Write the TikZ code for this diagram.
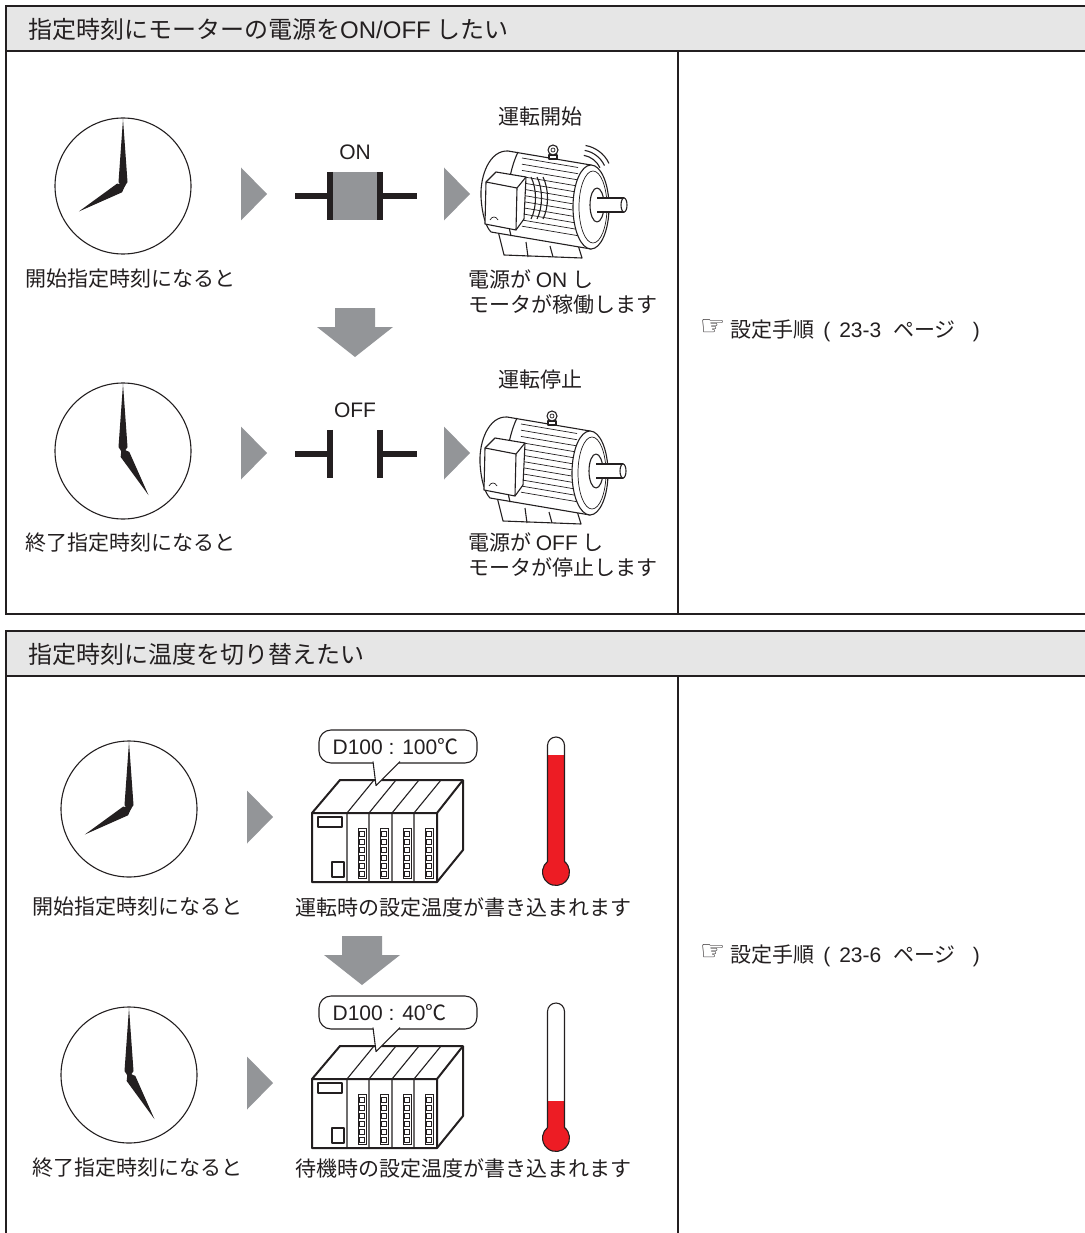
\documentclass[tikz,border=0pt]{standalone}
\usepackage{fontspec}
\setmainfont{Noto Sans CJK JP}
\newfontfamily\arial{Liberation Sans}
\newfontfamily\handfont{DejaVu Sans}
\usetikzlibrary{calc}

\definecolor{ink}{HTML}{231F20}
\definecolor{headgray}{HTML}{E6E6E6}
\definecolor{markgray}{HTML}{939598}
\definecolor{hotred}{HTML}{ED1C24}

\newcommand\pagelink[1]{{\handfont\fontsize{28}{28}\selectfont\raisebox{2pt}{☞}}\hspace{5pt}設定手順\hspace{9pt}{\arial (}\hspace{9pt}{\arial #1}\hspace{12pt}ページ\hspace{17pt}{\arial )}}

\tikzset{
  mline/.style={ink,line width=1.1pt,line join=round},
  fin/.style={ink,line width=0.7pt},
  pics/hands/.style={code={
    \fill[ink,rotate=90] (-3,0) -- (4,4.5) -- (67,0) -- (4,-4.5) -- cycle;
    \fill[ink,rotate=-#1] (-3,0) -- (4,5) -- (51,0) -- (4,-5) -- cycle;
  }},
  pics/fwd/.style={code={
    \fill[markgray] (-13,-26.5) -- (13,0) -- (-13,26.5) -- cycle;
  }},
  pics/down/.style={code={
    \fill[markgray] (-20,0) -- (20,0) -- (20,19) -- (38,19) -- (0,49) -- (-38,19) -- (-20,19) -- cycle;
  }},
  pics/motor/.style={code={
    \draw[mline,fill=white] (20,84) -- (100,98) -- (104,111) -- (26,108) -- cycle;
    \draw[mline] (48,95) -- (50,110) (72,99) -- (75,110);
    \draw[mline,fill=white] (113,18) -- (30,4) .. controls (12,3) and (2,28) .. (3,50)
      .. controls (4,68) and (8,80) .. (13,85) -- (113,102) -- cycle;
    \foreach \f in {0,...,11}
      \draw[fin] (44,{11+6.2*\f}) -- ++(56,9.5);
    \draw[mline] (40,5) .. controls (28,30) and (27,65) .. (33,89);
    \draw[mline,fill=white] (113,60) ellipse[x radius=18,y radius=42];
    \draw[fin] (115,60) ellipse[x radius=14,y radius=36];
    \draw[mline,fill=white] (119,58) ellipse[x radius=7,y radius=17];
    \draw[mline,fill=white] (119,51) -- (146,51) -- (146,65) -- (119,65);
    \draw[mline,fill=white] (146,58) ellipse[x radius=3,y radius=7];
    \draw[mline,fill=white] (8,35) -- (18,25) -- (48,30) -- (46,72) -- (38,83) -- (7,77) -- cycle;
    \draw[mline] (8,35) -- (39,41) -- (48,30) (39,41) -- (38,83);
    \draw[fin] (12,73) .. controls (14,69) and (18,69) .. (20,73);
    \draw[mline,fill=white] (71,8) rectangle (79,12);
    \draw[mline,fill=white] (75,3) circle (5);
    \draw[fin] (75,3) circle (2);
  }},
  pics/spin/.style={code={
    \foreach \r in {22,27,32}
      \draw[mline] ($(102,30)+(-80:\r)$) arc[start angle=-80,end angle=-25,radius=\r];
    \foreach \k in {0,1,2}
      \draw[mline] ({53+6*\k},30) .. controls ({59+6*\k},42) and ({59+6*\k},60) .. ({53+6*\k},72);
  }},
  pics/plc/.style={code={
    \draw[ink,line width=2pt,line join=round,fill=white] (0,0) -- (28,-33) -- (151,-33) -- (151,37) -- (125,69) -- (0,69) -- cycle;
    \draw[ink,line width=2pt,line join=round] (0,0) -- (125,0) -- (151,-33) (125,0) -- (125,69);
    \foreach \m in {35,57,80,102}{
      \draw[mline] (\m,69) -- (\m,0) -- ++(27,-33);
      \draw[fin] (\m+11,15) rectangle (\m+19,65);
      \foreach \j in {0,...,5}
        \draw[fin] (\m+12.5,18+8*\j) rectangle ++(5,5);
    }
    \draw[mline] (6,4) rectangle (30,14);
    \draw[mline] (20,49) rectangle (32,64);
  }},
  pics/therm/.style={code={
    \fill[hotred] (-8.5,#1) -- (8.5,#1) -- (8.5,-10.5) arc[start angle=-51,end angle=231,radius=13.5] -- cycle;
    \draw[mline] (-8.5,-10.5) -- (-8.5,-126.5) arc[start angle=180,end angle=360,radius=8.5]
      -- (8.5,-10.5) arc[start angle=-51,end angle=231,radius=13.5];
  }},
}

\begin{document}
\begin{tikzpicture}[x=1pt,y=-1pt,
  frame/.style={ink,line width=2pt},
  lbl/.style={font=\fontsize{21}{25}\selectfont,text=ink,inner sep=0pt},
  headtxt/.style={lbl,font=\fontsize{24}{28}\selectfont,anchor=west},
  dial/.style={circle,draw=ink,line width=1.1pt,minimum size=136pt,inner sep=0pt},
  lead/.style={ink,line width=6pt},
  contact/.style={minimum width=50pt,minimum height=48pt,inner sep=0pt},
  bubble/.style={draw=ink,line width=1.1pt,fill=white,rounded corners=12pt,
    minimum width=158pt,minimum height=33pt,inner sep=0pt},
  ]
  \useasboundingbox (0,0) rectangle (1084,1233);

  \fill[headgray] (6,6) rectangle (1090,51);
  \draw[frame] (1090,6) -- (6,6) -- (6,614) -- (1090,614);
  \draw[frame] (6,51) -- (1090,51);
  \draw[frame] (678,51) -- (678,614);
  \node[headtxt] (head1) at (28,29) {指定時刻にモーターの電源を{\arial ON/OFF} したい};

  \node[dial] (clk1) at (123,186) {};
  \pic at (clk1.center) {hands=150};
  \node[lbl,anchor=west] (start1) at (25,279) {開始指定時刻になると};
  \pic at (254,194) {fwd};
  \node[contact,fill=markgray] (sw1) at (355,196) {};
  \draw[lead] (sw1.north west) -- (sw1.south west) (sw1.north east) -- (sw1.south east);
  \draw[lead] (sw1.west) -- ++(-35,0) (sw1.east) -- ++(37,0);
  \node[lbl] (on) at (355,152) {\arial ON};
  \pic at (457,194) {fwd};
  \pic at (478,147) {motor};
  \pic at (478,147) {spin};
  \node[lbl] (run) at (540,117) {運転開始};
  \node[lbl,anchor=north west,align=left] (runtxt) at (468,270) {電源が {\arial ON} し\\モータが稼働します};

  \pic at (355,308) {down};

  \node[dial] (clk2) at (123,451) {};
  \pic at (clk2.center) {hands=60};
  \node[lbl,anchor=west] (stop1) at (25,543) {終了指定時刻になると};
  \pic at (254,453) {fwd};
  \node[contact] (sw2) at (355,454) {};
  \draw[lead] (sw2.north west) -- (sw2.south west) (sw2.north east) -- (sw2.south east);
  \draw[lead] (sw2.west) -- ++(-35,0) (sw2.east) -- ++(37,0);
  \node[lbl] (off) at (355,410) {\arial OFF};
  \pic at (457,453) {fwd};
  \pic at (477,413) {motor};
  \node[lbl] (halt) at (540,380) {運転停止};
  \node[lbl,anchor=north west,align=left] (halttxt) at (468,533) {電源が {\arial OFF} し\\モータが停止します};

  \node[lbl,anchor=west] (ref1) at (700,331) {\pagelink{23-3}};

  \fill[headgray] (6,631) rectangle (1090,676);
  \draw[frame] (1090,631) -- (6,631) -- (6,1240);
  \draw[frame] (6,676) -- (1090,676);
  \draw[frame] (678,676) -- (678,1240);
  \node[headtxt] (head2) at (28,654) {指定時刻に温度を切り替えたい};

  \node[dial] (clk3) at (129,809) {};
  \pic at (clk3.center) {hands=150};
  \node[lbl,anchor=west] (start2) at (32,907) {開始指定時刻になると};
  \pic at (260,817) {fwd};
  \pic at (312,813) {plc};
  \node[bubble] (bub1) at (398,746.5) {};
  \draw[mline,fill=white] ($(bub1.south)+(-25,-2)$) -- ($(bub1.south)+(-22,22)$) -- ($(bub1.south)+(2,-2)$);
  \node[lbl,anchor=west] (val1) at ([xshift=14pt]bub1.west) {{\arial D100 : 100}℃};
  \pic at (556,872) {therm=-117};
  \node[lbl,anchor=west] (write1) at (295,907) {運転時の設定温度が書き込まれます};

  \pic at (362,936) {down};

  \node[dial] (clk4) at (129,1075) {};
  \pic at (clk4.center) {hands=60};
  \node[lbl,anchor=west] (stop2) at (32,1168) {終了指定時刻になると};
  \pic at (260,1083) {fwd};
  \pic at (312,1079) {plc};
  \node[bubble] (bub2) at (398,1012.5) {};
  \draw[mline,fill=white] ($(bub2.south)+(-25,-2)$) -- ($(bub2.south)+(-22,22)$) -- ($(bub2.south)+(2,-2)$);
  \node[lbl,anchor=west] (val2) at ([xshift=14pt]bub2.west) {{\arial D100 : 40}℃};
  \pic at (556,1138) {therm=-37};
  \node[lbl,anchor=west] (write2) at (295,1168) {待機時の設定温度が書き込まれます};

  \node[lbl,anchor=west] (ref2) at (700,956) {\pagelink{23-6}};
\end{tikzpicture}
\end{document}
